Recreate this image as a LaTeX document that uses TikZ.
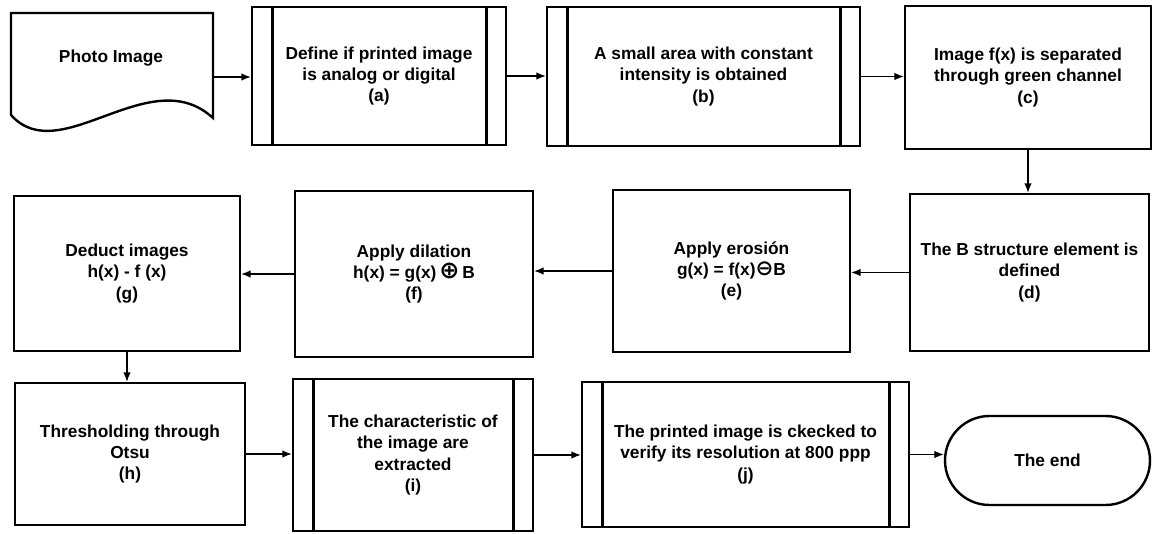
\documentclass[tikz,border=0pt]{standalone}
\usepackage{fontspec}
\setmainfont{Liberation Sans}
\newfontfamily\opsymfont{DejaVu Sans}
\usetikzlibrary{arrows.meta,shapes.misc}

% circled operators for the morphology formulas
\newcommand{\morphplus}{{\opsymfont\fontsize{18}{16}\selectfont ⊕}}
\newcommand{\morphminus}{{\opsymfont\fontsize{16}{16}\selectfont ⊖}}

\tikzset{
  label font/.style={font=\bfseries\fontsize{13}{16}\selectfont},
  box/.style={draw, line width=1.8pt, align=center, inner sep=0pt, label font},
  subproc/.style={box,
    path picture={
      \draw[line width=1.8pt]
        ([xshift=15.5pt]path picture bounding box.north west) --
        ([xshift=15.5pt]path picture bounding box.south west);
      \draw[line width=1.8pt]
        ([xshift=-14.5pt]path picture bounding box.north east) --
        ([xshift=-14.5pt]path picture bounding box.south east);
    }},
  terminal/.style={box, rounded rectangle},
  arr/.style={-{Latex[length=7pt,width=5.5pt]}, line width=0.9pt},
  sz/.style 2 args={minimum width=#1*0.75pt, minimum height=#2*0.75pt}
}

\begin{document}
\begin{tikzpicture}[x=0.75pt,y=-0.75pt]
\useasboundingbox (0,0) rectangle (1160,534);

% document symbol for the input photo
\draw[line width=1.8pt] (11,13) -- (213,13) -- (213,118)
  .. controls (150,60) and (60,170) .. (11,115) -- cycle;
\node[sz={202}{128}, inner sep=0pt] (photo) at (112,77) {};
\node[label font] (phototext) at (111,58) {Photo Image};

% first row
\node[subproc, sz={254}{138}] (a) at (379,76)
  {Define if printed image\\is analog or digital\\(a)};
\node[subproc, sz={313}{139}] (b) at (703.5,76.5)
  {A small area with constant\\intensity is obtained\\(b)};
\node[box, sz={246}{143}] (c) at (1028,77.5)
  {Image f(x) is separated\\through green channel\\(c)};

% second row
\node[box, sz={239}{157}] (d) at (1029.5,272.5)
  {The B structure element is\\defined\\(d)};
\node[box, sz={237}{162}] (e) at (731.5,271)
  {Apply erosión\\g(x) = f(x)\morphminus B\\(e)};
\node[box, sz={238}{166}] (f) at (414,274)
  {Apply dilation\\h(x) = g(x)\,\morphplus\,B\\(f)};
\node[box, sz={226}{155}] (g) at (127,273.5)
  {Deduct images\\h(x) - f (x)\\(g)};

% third row
\node[box, sz={230}{142}] (h) at (130,454)
  {Thresholding through\\Otsu\\(h)};
\node[subproc, sz={240}{152}] (i) at (413,455)
  {The characteristic of\\the image are\\extracted\\(i)};
\node[subproc, sz={327}{145}] (j) at (745.5,454.5)
  {The printed image is ckecked to\\verify its resolution at 800 ppp\\(j)};
\node[terminal, sz={205}{89}] (end) at (1047.5,460.5) {The end};

% connectors
\draw[arr] (photo.east) -- (photo.east -| a.west);
\draw[arr] (a.east) -- (a.east -| b.west);
\draw[arr] (b.east) -- (b.east -| c.west);
\draw[arr] (c.south) -- (c.south |- d.north);
\draw[arr] (d.west) -- (d.west -| e.east);
\draw[arr] (e.west) -- (e.west -| f.east);
\draw[arr] (f.west) -- (f.west -| g.east);
\draw[arr] (g.south) -- (g.south |- h.north);
\draw[arr] (h.east) -- (h.east -| i.west);
\draw[arr] (i.east) -- (i.east -| j.west);
\draw[arr] (j.east) -- (j.east -| end.west);
\end{tikzpicture}
\end{document}
